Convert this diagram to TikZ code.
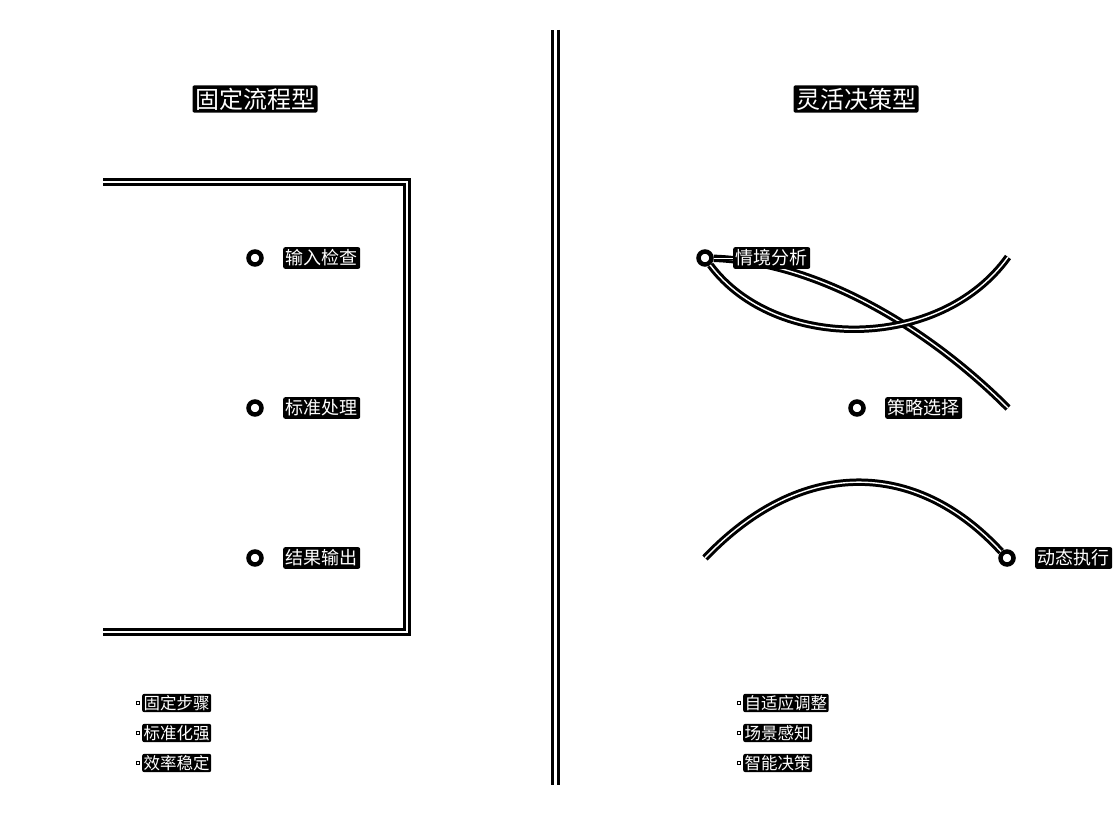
\documentclass[tikz,border=0pt]{standalone}
\usepackage{fontspec}
\newfontfamily\cjk{Noto Sans CJK SC}
\usetikzlibrary{positioning}

\tikzset{
  halo/.style={fill=black,text=white,inner sep=2.5pt,rounded corners=2pt,
    font=\cjk\fontsize{18}{18}\selectfont},
  ttl/.style={halo,font=\cjk\fontsize{24}{24}\selectfont},
  small/.style={halo,inner sep=1.5pt,font=\cjk\fontsize{16.5}{16.5}\selectfont},
  dot/.style={circle,draw=black,line width=4.5pt,fill=white,minimum size=13pt,inner sep=0pt},
  bul/.style={rectangle,draw=black,line width=1.5pt,fill=white,minimum size=3pt,inner sep=0pt},
  dbl/.style={draw=black,line width=3pt,double=white,double distance=1.4pt}
}

\begin{document}
\begin{tikzpicture}[x=1pt,y=-1pt]
  \useasboundingbox (0,0) rectangle (1119,821);
  % titles and divider
  \node[ttl] (tfix) at (255,99) {固定流程型};
  \node[ttl] (tflex) at (856,99) {灵活决策型};
  \draw[draw=black,line width=3pt,double=white,double distance=2.3pt] (555.5,30) -- (555.5,785);

  % fixed process
  \draw[dbl] (103,182) -- (407,182) -- (407,632) -- (103,632);
  \node[dot] (f1) at (255,258) {};
  \node[dot] (f2) at (255,408) {};
  \node[dot] (f3) at (255,558) {};
  \node[halo,anchor=west] (lf1) at (283,258) {输入检查};
  \node[halo,anchor=west] (lf2) at (283,408) {标准处理};
  \node[halo,anchor=west] (lf3) at (283,558) {结果输出};

  % flexible decision
  \node[dot] (d1) at (705,258) {};
  \node[dot] (d2) at (857,408) {};
  \node[dot] (d3) at (1007,558) {};
  \coordinate (e1) at (1008,408);
  \coordinate (e2) at (1008,257);
  \coordinate (e3) at (705,558);
  \draw[dbl] (d1) .. controls (820,262) and (930,330) .. (e1);
  \draw[dbl] (d1) .. controls (775,352) and (940,352) .. (e2);
  \draw[dbl] (e3) .. controls (800,458) and (915,458) .. (d3);
  \node[halo,anchor=west] (ld1) at (733,258) {情境分析};
  \node[halo,anchor=west] (ld2) at (885,408) {策略选择};
  \node[halo,anchor=west] (ld3) at (1035,558) {动态执行};
  \draw[draw=black,line width=1.6pt,double=white,double distance=0.8pt] (d1) -- (ld1);

  % bullet lists
  \foreach \t [count=\i] in {固定步骤,标准化强,效率稳定}
    \node[small,anchor=west,label={[bul,label distance=2pt]left:{}}] (bl\i) at (142,673+30*\i) {\t};
  \foreach \t [count=\i] in {自适应调整,场景感知,智能决策}
    \node[small,anchor=west,label={[bul,label distance=2pt]left:{}}] (br\i) at (743,673+30*\i) {\t};
\end{tikzpicture}
\end{document}
